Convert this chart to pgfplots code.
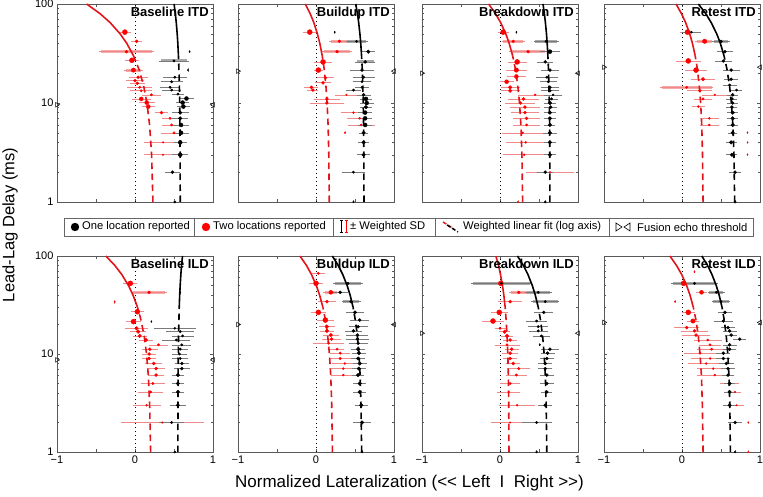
\documentclass[border=0pt]{standalone}
\usepackage{fontspec}
\setmainfont{Liberation Sans}
\usepackage{pgfplots}
\usepackage{pgfplotstable}
\pgfplotsset{compat=1.18}
\definecolor{ered}{HTML}{F08A8A}
\definecolor{egrey}{HTML}{7A7A7A}
\definecolor{bandred}{HTML}{F6A9A9}
\definecolor{bandgrey}{HTML}{A8A8A8}
\definecolor{fitred}{HTML}{E3141B}

% x = lateralization, y = lead-lag delay (ms), e = weighted SD, s = marker size (pt)
% ---- Baseline ITD
\pgfplotstableread{
x y e s
-0.13 52 0.06 2.5
0.02 42 0.05 1.5
-0.11 33 0.33 1.5
-0.04 27 0.07 2.5
-0.02 21.5 0.10 2.2
0.04 18.2 0.10 1.5
0.00 16.8 0.10 1.5
0.03 15.8 0.08 1.5
0.06 14.4 0.14 1.2
0.08 13.3 0.12 1.2
0.21 12.1 0.10 1.2
0.08 11 0.10 2.0
0.15 10.1 0.08 2.0
0.17 9.2 0.06 2.0
0.34 8 0.06 1.5
0.45 7 0.08 1.2
0.47 6 0.10 1.2
0.50 5 0.14 1.2
0.36 4 0.22 0.8
0.36 3 0.23 0.8
}\rA
\pgfplotstableread{
x y e s
0.70 33 0 0.7
0.50 26.6 0.17 1.2
0.68 21.5 0 0.7
0.51 18.2 0.13 1.2
0.47 16.4 0.12 1.2
0.45 14.4 0.11 1.2
0.47 13.5 0.10 1.2
0.55 12.3 0.06 1.2
0.66 11.1 0.07 2.0
0.61 10.1 0.06 2.0
0.62 9.2 0.06 2.0
0.58 8 0.09 1.8
0.58 7 0.08 1.8
0.59 6 0.08 2.0
0.59 5 0.08 2.0
0.58 4 0.06 2.0
0.58 3 0.08 2.0
0.48 2 0.07 1.5
0.51 1 0 1.2
}\kA
% ---- Buildup ITD
\pgfplotstableread{
x y e s
-0.08 52 0.07 2.5
0.30 42 0.11 1.5
0.27 33 0.17 1.5
0.09 26 0.10 2.5
0.03 21.5 0.04 2.5
0.12 18 0.09 1.5
0.09 16 0.08 1.5
-0.06 14.4 0.07 1.5
-0.04 13.5 0.05 1.5
0.39 12.1 0.12 0.8
0.14 11 0.15 1.5
0.14 10 0.20 1.5
0.48 8 0.14 1.0
0.56 7 0.14 1.0
0.58 6 0.15 1.0
0.37 5 0 0.7
}\rB
\pgfplotstableread{
x y e s
0.24 52 0 0.7
0.52 42 0.12 1.2
0.67 33 0.07 1.8
0.63 26 0.11 1.5
0.59 21.5 0.13 1.5
0.61 18.2 0.12 1.2
0.59 16.4 0.10 1.2
0.59 14.4 0.07 1.2
0.48 13.5 0.07 1.2
0.61 12.1 0.07 1.5
0.64 11 0.06 2.0
0.65 10 0.07 2.0
0.64 9.1 0.06 1.8
0.63 8 0.07 2.0
0.63 7 0.07 2.0
0.63 6 0.07 2.0
0.61 5 0.04 1.8
0.61 4 0.05 1.8
0.61 3 0.06 1.8
0.48 2 0.13 1.2
0.48 1 0 0.9
}\kB
% ---- Breakdown ITD
\pgfplotstableread{
x y e s
0.04 52 0.05 2.5
0.17 42 0.13 1.5
0.36 33 0.22 1.5
0.22 26 0.10 2.5
0.21 21.5 0.11 2.2
0.21 18.5 0.10 2.0
0.085 16.4 0.07 2.0
0.13 14.4 0.10 1.8
0.13 13.3 0.10 1.8
0.45 12.1 0.20 1.0
0.30 11 0.18 1.5
0.26 10 0.17 1.5
0.32 9.1 0.17 1.5
0.32 8 0.16 1.5
0.34 7 0.15 1.5
0.34 6 0.15 1.2
0.29 5 0.24 1.0
0.33 4 0.23 1.0
0.31 3 0.25 1.0
0.64 2 0.29 0.8
0.23 1 0 0.7
}\rC
\pgfplotstableread{
x y e s
0.21 52 0 0.7
0.59 42 0.14 1.2
0.64 33 0.11 2.0
0.58 26 0.08 1.5
0.64 21.5 0.09 1.5
0.60 18.2 0.12 1.2
0.62 16.4 0.09 1.2
0.64 14.4 0.10 1.5
0.64 13.3 0.10 1.5
0.68 12.1 0.10 1.0
0.66 11 0.06 1.2
0.64 10 0.06 1.8
0.65 9.1 0.06 1.5
0.64 8 0.06 1.8
0.64 7 0.06 1.8
0.64 6 0.05 1.8
0.64 5 0.07 1.8
0.64 4 0.06 1.8
0.64 3 0.06 1.8
0.58 2 0.08 1.5
0.58 1 0 1.2
}\kC
% ---- Retest ITD
\pgfplotstableread{
x y e s
0.07 52 0.07 2.5
0.29 42 0.10 2.2
0.08 26.6 0.14 2.5
0.18 21.5 0.12 2.5
0.27 17.4 0.13 1.8
0.06 14.4 0.32 1.2
0.23 13.3 0.14 1.5
0.42 12.1 0.14 0.8
0.27 11 0.10 1.2
0.21 9.2 0.06 1.0
0.35 7 0.10 1.0
0.35 6 0.10 1.0
0.84 5 0 0.6
0.84 4 0 0.6
0.84 3 0 0.6
}\rD
\pgfplotstableread{
x y e s
0.12 52 0.10 1.2
0.50 42 0.09 1.5
0.55 33 0.08 1.5
0.53 26.6 0.09 1.5
0.63 21.5 0.09 1.5
0.63 17.4 0.07 1.5
0.61 15.2 0.07 1.2
0.70 13.5 0.05 1.2
0.65 12.1 0.05 1.5
0.64 11 0.05 1.5
0.65 10 0.05 1.5
0.64 9.1 0.05 1.5
0.65 8 0.05 1.8
0.65 7 0.05 1.8
0.65 6 0.05 1.8
0.65 5 0.04 1.8
0.63 4 0.05 1.8
0.64 3 0.05 1.8
0.68 2 0.06 1.5
0.68 1 0 1.2
}\kD
% ---- Baseline ILD
\pgfplotstableread{
x y e s
-0.06 52.6 0.07 2.5
0.18 42.6 0.21 1.5
-0.26 34 0 0.7
0.03 27 0.06 2.5
-0.02 21.4 0.07 2.5
0.02 18.3 0.13 1.8
0.04 16.9 0.08 1.8
0.06 15.3 0.07 1.8
0.14 13.9 0.07 1.8
0.30 12.4 0.10 1.2
0.19 11.2 0.08 1.5
0.18 10 0.07 1.5
0.18 9 0.07 1.5
0.24 8 0.09 1.5
0.27 7.1 0.10 1.5
0.27 6.1 0.08 1.5
0.23 5 0.13 1.2
0.20 4.1 0.14 1.2
0.15 3 0.16 1.0
0.35 2 0.51 0.8
}\rE
\pgfplotstableread{
x y e s
0.58 42.6 0 0.7
0.21 21.4 0 0.7
0.51 18.3 0.25 1.0
0.58 16.9 0.16 1.2
0.61 15.3 0.12 1.2
0.53 13.9 0.16 1.2
0.60 12.4 0.10 1.2
0.58 11.2 0.08 1.2
0.57 10 0.08 1.2
0.58 9 0.08 1.2
0.60 8 0.07 1.5
0.60 7.1 0.08 1.5
0.55 6.1 0.06 1.8
0.55 5 0.06 1.8
0.55 4.1 0.06 1.8
0.55 3 0.08 1.8
0.47 2 0.14 1.2
0.51 1 0 1.0
}\kE
% ---- Buildup ILD
\pgfplotstableread{
x y e s
0.03 66.5 0.06 1.2
0.00 52.6 0.07 2.5
0.19 42.6 0.08 2.0
0.14 34.2 0.09 1.5
0.03 26.6 0.08 2.5
0.12 22.2 0.09 2.5
0.14 19 0.08 1.8
0.14 17.2 0.07 1.8
0.19 15.6 0.08 1.8
0.20 14.2 0.10 1.5
0.16 12.9 0.18 1.2
0.27 11.2 0.07 1.2
0.31 10.2 0.11 1.2
0.31 9 0.12 1.2
0.37 8 0.14 1.0
0.35 7.1 0.16 1.0
0.35 6.1 0.14 1.0
}\rF
\pgfplotstableread{
x y e s
0.41 52.6 0.17 1.2
0.31 42.6 0.08 1.5
0.45 34.2 0.10 1.5
0.50 26.6 0.10 1.8
0.56 22.2 0.10 1.5
0.54 19 0.10 1.5
0.48 17.2 0.09 1.5
0.53 15.6 0.12 1.5
0.53 14.2 0.13 1.5
0.54 12.9 0.10 1.5
0.54 11.2 0.07 1.8
0.55 10.2 0.07 1.8
0.54 9 0.07 1.8
0.56 8 0.07 1.8
0.55 7.1 0.07 1.8
0.54 6.1 0.06 1.8
0.56 5 0.06 1.8
0.56 4.1 0.06 1.8
0.58 3 0.06 1.8
0.59 2 0.09 1.8
0.59 1 0 1.0
}\kF
% ---- Breakdown ILD
\pgfplotstableread{
x y e s
0.01 52.6 0.06 2.5
0.24 42.6 0.10 1.5
0.13 34.2 0.13 1.5
-0.01 26.6 0.09 2.5
-0.09 21.7 0.12 2.5
0.00 18.3 0.05 1.2
0.06 16.9 0.05 1.8
0.09 15.3 0.06 1.8
0.13 13.9 0.07 1.5
0.09 12.4 0.14 1.2
0.15 11.2 0.07 1.5
0.13 10.2 0.08 1.5
0.13 9 0.07 1.5
0.17 8 0.07 1.5
0.24 7.1 0.13 1.2
0.21 6.1 0.11 1.2
0.13 5 0.11 1.2
0.11 4.1 0.13 1.0
0.22 3 0.21 1.0
0.13 2 0.22 0.8
}\rG
\pgfplotstableread{
x y e s
0.02 52.6 0.37 1.2
0.49 42.6 0.15 1.2
0.58 34.2 0.16 1.2
0.56 26.6 0.10 1.5
0.47 21.7 0.11 1.2
0.49 19 0.11 1.2
0.49 17.2 0.10 1.2
0.53 15.3 0.09 1.2
0.51 12.4 0 0.8
0.64 11.2 0.09 1.5
0.61 10.2 0.07 1.5
0.60 9 0.07 1.5
0.58 8 0.07 1.5
0.58 7.1 0.07 1.5
0.60 6.1 0.07 1.5
0.60 5 0.07 1.5
0.60 4.1 0.05 1.5
0.58 3 0.07 1.5
0.47 2 0.17 1.2
0.47 1 0 1.0
}\kG
% ---- Retest ILD
\pgfplotstableread{
x y e s
0.16 69 0 0.7
0.02 52.6 0.07 2.5
0.25 42.6 0.05 2.0
-0.09 34.2 0 0.7
0.08 26.6 0.06 2.5
0.14 21.7 0.06 2.2
0.06 18.6 0.14 1.5
0.16 17.2 0.15 1.5
0.18 15.6 0.16 1.5
0.33 13.9 0.16 1.2
0.36 12.4 0.12 1.2
0.38 11.2 0.17 1.2
0.23 10.2 0.18 1.2
0.36 9 0.22 1.0
0.31 8 0.21 1.0
0.40 7.1 0.19 1.0
0.42 6.1 0.21 1.0
0.61 5 0.10 0.8
0.68 4.1 0.06 0.8
0.70 3 0.07 0.8
0.85 2 0 0.6
0.85 1 0 0.6
}\rH
\pgfplotstableread{
x y e s
0.16 52.6 0.28 1.2
0.44 42.6 0.09 1.2
0.50 34.2 0.10 1.2
0.55 26.6 0.07 1.5
0.53 21.7 0.10 1.5
0.59 18.6 0.07 1.5
0.61 17.2 0.07 1.5
0.63 15.6 0.06 1.5
0.74 14.2 0.06 1.5
0.61 12.4 0.07 1.5
0.61 11.2 0.06 1.5
0.53 10.2 0.07 1.5
0.53 9 0.07 1.5
0.57 8 0.07 1.5
0.59 7.1 0.07 1.5
0.59 6.1 0.06 1.5
0.61 5 0.05 1.8
0.61 4.1 0.05 1.8
0.61 3 0.06 1.8
0.68 2 0.07 1.5
0.68 1 0 1.0
}\kH

\pgfplotsset{
  myax/.style={scale only axis, width=156pt, anchor=south west,
    xmin=-1, xmax=1, ymin=1, ymax=100,
    xtick={-1,-0.5,0,0.5,1}, xticklabels={}, ytick={1,10,100}, yticklabels={},
    axis line style={black!65, line width=0.6pt},
    tick style={black!65, line width=0.5pt},
    major tick length=3pt, minor tick length=2pt,
    tick label style={font=\fontsize{11}{13}\selectfont}},
  pts/.style={scatter, only marks, mark=*,
    scatter/use mapped color={draw=#1, fill=#1},
    visualization depends on={\thisrow{s}\as\ms},
    scatter/@pre marker code/.append style={/tikz/mark size=\ms},
    error bars/x dir=both, error bars/x explicit},
  rdat/.style={pts=red,
    error bars/error bar style={draw=ered, line width=0.6pt},
    error bars/error mark options={draw=ered, mark size=1.6pt, line width=0.6pt}},
  kdat/.style={pts=black,
    error bars/error bar style={draw=egrey, line width=0.6pt},
    error bars/error mark options={draw=egrey, mark size=1.6pt, line width=0.6pt}},
  band/.style={draw=none, mark=none,
    error bars/x dir=both, error bars/x explicit, error bars/error mark=none,
    error bars/error bar style={draw=#1, line width=3pt}},
  zline/.style={black, line width=0.7pt, dash pattern=on 0.7pt off 3.3pt},
  rfd/.style={fitred, line width=1.6pt, dash pattern=on 6.5pt off 4.5pt},
  rfs/.style={fitred, line width=1.6pt},
  kfd/.style={black, line width=1.6pt, dash pattern=on 6.5pt off 4.5pt},
  kfs/.style={black, line width=1.6pt},
  fus/.style={only marks, mark=triangle, mark size=2.6pt, black, line width=0.5pt},
  botrow/.style={xticklabels={−1,,0,,1}},
}
\tikzset{ttl/.style={anchor=north east, inner sep=0pt, xshift=-4pt, yshift=-3pt,
  font=\bfseries\fontsize{13}{15}\selectfont}}

\newcommand\fusion[1]{%
  \addplot[fus, mark options={rotate=-90}] coordinates {(-1,#1)};
  \addplot[fus, mark options={rotate=90}] coordinates {(1,#1)};}

\begin{document}
\begin{tikzpicture}
\path[use as bounding box] (0,0) rectangle (763pt,496pt);

% ---------------- top row (ITD)
\begin{axis}[myax, ymode=log, height=198pt, at={(57pt,294pt)}, yticklabels={1,10,100}]
  \addplot[zline] coordinates {(0,1) (0,100)};
  \addplot[band=bandred] coordinates {(-0.11,33) +- (0.33,0) (-0.02,21.5) +- (0.10,0)};
  \addplot[band=bandgrey] coordinates {(0.50,26.6) +- (0.17,0)};
  \addplot[rdat] table[x=x,y=y,x error=e] {\rA};
  \addplot[kdat] table[x=x,y=y,x error=e] {\kA};
  \addplot[rfd] coordinates {(0.23,1) (0.213,3) (0.187,6) (0.153,10) (0.110,15) (0.050,22) (-0.019,30)};
  \addplot[rfs] coordinates {(-0.019,30) (-0.105,40) (-0.191,50) (-0.320,65) (-0.449,80) (-0.620,100)};
  \addplot[kfd] coordinates {(0.58,1) (0.578,3) (0.576,6) (0.573,10) (0.569,15) (0.563,22) (0.557,30)};
  \addplot[kfs] coordinates {(0.557,30) (0.549,40) (0.541,50) (0.529,65) (0.517,80) (0.501,100)};
  \fusion{9.6}
  \node[ttl] at (rel axis cs:1,1) {Baseline ITD};
\end{axis}

\begin{axis}[myax, ymode=log, height=198pt, at={(238pt,294pt)}]
  \addplot[zline] coordinates {(0,1) (0,100)};
  \addplot[band=bandred] coordinates {(0.30,42) +- (0.11,0) (0.27,33) +- (0.17,0)};
  \addplot[band=bandgrey] coordinates {(0.52,42) +- (0.12,0) (0.63,26) +- (0.11,0)};
  \addplot[rdat] table[x=x,y=y,x error=e] {\rB};
  \addplot[kdat] table[x=x,y=y,x error=e] {\kB};
  \addplot[rfd] coordinates {(0.17,1) (0.164,3) (0.155,6) (0.142,10) (0.127,15) (0.105,22) (0.080,30)};
  \addplot[rfs] coordinates {(0.080,30) (0.049,40) (0.018,50) (-0.028,65) (-0.075,80) (-0.137,100)};
  \addplot[kfd] coordinates {(0.615,1) (0.613,3) (0.610,6) (0.605,10) (0.600,15) (0.593,22) (0.584,30)};
  \addplot[kfs] coordinates {(0.584,30) (0.574,40) (0.563,50) (0.547,65) (0.531,80) (0.510,100)};
  \fusion{21}
  \node[ttl] at (rel axis cs:1,1) {Buildup ITD};
\end{axis}

\begin{axis}[myax, ymode=log, height=198pt, at={(422pt,294pt)}]
  \addplot[zline] coordinates {(0,1) (0,100)};
  \addplot[band=bandred] coordinates {(0.17,42) +- (0.13,0) (0.36,33) +- (0.22,0)};
  \addplot[band=bandgrey] coordinates {(0.59,42) +- (0.14,0)};
  \addplot[rdat] table[x=x,y=y,x error=e] {\rC};
  \addplot[kdat] table[x=x,y=y,x error=e] {\kC};
  \addplot[rfd] coordinates {(0.29,1) (0.281,3) (0.268,6) (0.250,10) (0.228,15) (0.198,22) (0.162,30)};
  \addplot[rfs] coordinates {(0.162,30) (0.118,40) (0.074,50) (0.008,65) (-0.058,80) (-0.146,100)};
  \addplot[kfd] coordinates {(0.64,1) (0.638,3) (0.636,6) (0.632,10) (0.627,15) (0.621,22) (0.614,30)};
  \addplot[kfs] coordinates {(0.614,30) (0.605,40) (0.596,50) (0.582,65) (0.569,80) (0.551,100)};
  \fusion{20}
  \node[ttl] at (rel axis cs:1,1) {Breakdown ITD};
\end{axis}

\begin{axis}[myax, ymode=log, height=198pt, at={(604pt,294pt)}]
  \addplot[zline] coordinates {(0,1) (0,100)};
  \addplot[band=bandred] coordinates {(0.29,42) +- (0.10,0) (0.06,14.4) +- (0.32,0)};
  \addplot[band=bandgrey] coordinates {(0.50,42) +- (0.09,0)};
  \addplot[rdat] table[x=x,y=y,x error=e] {\rD};
  \addplot[kdat] table[x=x,y=y,x error=e] {\kD};
  \addplot[rfd] coordinates {(0.27,1) (0.263,3) (0.253,6) (0.239,10) (0.221,15) (0.197,22) (0.169,30)};
  \addplot[rfs] coordinates {(0.169,30) (0.134,40) (0.099,50) (0.046,65) (-0.007,80) (-0.077,100)};
  \addplot[kfd] coordinates {(0.675,1) (0.666,3) (0.652,6) (0.633,10) (0.609,15) (0.576,22) (0.539,30)};
  \addplot[kfs] coordinates {(0.539,30) (0.492,40) (0.445,50) (0.374,65) (0.304,80) (0.210,100)};
  \fusion{23}
  \node[ttl] at (rel axis cs:1,1) {Retest ITD};
\end{axis}

% ---------------- bottom row (ILD)
\begin{axis}[myax, ymode=log, botrow, height=196pt, at={(57pt,44pt)}, yticklabels={1,10,100}]
  \addplot[zline] coordinates {(0,1) (0,100)};
  \addplot[band=bandred] coordinates {(0.18,42.6) +- (0.21,0)};
  \addplot[rdat] table[x=x,y=y,x error=e] {\rE};
  \addplot[kdat] table[x=x,y=y,x error=e] {\kE};
  \addplot[rfd] coordinates {(0.20,1) (0.188,3) (0.171,6) (0.148,10) (0.119,15) (0.078,22) (0.032,30)};
  \addplot[rfs] coordinates {(0.032,30) (-0.026,40) (-0.084,50) (-0.171,65) (-0.258,80) (-0.374,100)};
  \addplot[kfd] coordinates {(0.55,1) (0.551,3) (0.553,6) (0.555,10) (0.558,15) (0.563,22) (0.567,30)};
  \addplot[kfs] coordinates {(0.567,30) (0.573,40) (0.579,50) (0.588,65) (0.597,80) (0.609,100)};
  \fusion{8.7}
  \node[ttl] at (rel axis cs:1,1) {Baseline ILD};
\end{axis}

\begin{axis}[myax, ymode=log, botrow, height=196pt, at={(238pt,44pt)}]
  \addplot[zline] coordinates {(0,1) (0,100)};
  \addplot[band=bandred] coordinates {(0.19,42.6) +- (0.08,0)};
  \addplot[band=bandgrey] coordinates {(0.41,52.6) +- (0.17,0) (0.45,34.2) +- (0.10,0)};
  \addplot[rdat] table[x=x,y=y,x error=e] {\rF};
  \addplot[kdat] table[x=x,y=y,x error=e] {\kF};
  \addplot[rfd] coordinates {(0.21,1) (0.202,3) (0.189,6) (0.172,10) (0.151,15) (0.122,22) (0.088,30)};
  \addplot[rfs] coordinates {(0.088,30) (0.046,40) (0.004,50) (-0.059,65) (-0.122,80) (-0.206,100)};
  \addplot[kfd] coordinates {(0.585,1) (0.577,3) (0.566,6) (0.551,10) (0.532,15) (0.505,22) (0.475,30)};
  \addplot[kfs] coordinates {(0.475,30) (0.437,40) (0.399,50) (0.342,65) (0.285,80) (0.209,100)};
  \fusion{20}
  \node[ttl] at (rel axis cs:1,1) {Buildup ILD};
\end{axis}

\begin{axis}[myax, ymode=log, botrow, height=196pt, at={(422pt,44pt)}]
  \addplot[zline] coordinates {(0,1) (0,100)};
  \addplot[band=bandred] coordinates {(0.24,42.6) +- (0.10,0)};
  \addplot[band=bandgrey] coordinates {(0.02,52.6) +- (0.37,0) (0.49,42.6) +- (0.15,0) (0.58,34.2) +- (0.16,0)};
  \addplot[rdat] table[x=x,y=y,x error=e] {\rG};
  \addplot[kdat] table[x=x,y=y,x error=e] {\kG};
  \addplot[rfd] coordinates {(0.115,1) (0.112,3) (0.107,6) (0.100,10) (0.091,15) (0.079,22) (0.066,30)};
  \addplot[rfs] coordinates {(0.066,30) (0.049,40) (0.032,50) (0.006,65) (-0.019,80) (-0.053,100)};
  \addplot[kfd] coordinates {(0.60,1) (0.592,3) (0.581,6) (0.566,10) (0.547,15) (0.520,22) (0.490,30)};
  \addplot[kfs] coordinates {(0.490,30) (0.452,40) (0.414,50) (0.357,65) (0.300,80) (0.224,100)};
  \fusion{16.3}
  \node[ttl] at (rel axis cs:1,1) {Breakdown ILD};
\end{axis}

\begin{axis}[myax, ymode=log, botrow, height=196pt, at={(604pt,44pt)}]
  \addplot[zline] coordinates {(0,1) (0,100)};
  \addplot[band=bandgrey] coordinates {(0.16,52.6) +- (0.28,0) (0.44,42.6) +- (0.09,0) (0.50,34.2) +- (0.10,0)};
  \addplot[rdat] table[x=x,y=y,x error=e] {\rH};
  \addplot[kdat] table[x=x,y=y,x error=e] {\kH};
  \addplot[rfd] coordinates {(0.27,1) (0.261,3) (0.249,6) (0.231,10) (0.210,15) (0.180,22) (0.145,30)};
  \addplot[rfs] coordinates {(0.145,30) (0.102,40) (0.059,50) (-0.005,65) (-0.070,80) (-0.156,100)};
  \addplot[kfd] coordinates {(0.62,1) (0.613,3) (0.602,6) (0.587,10) (0.568,15) (0.542,22) (0.513,30)};
  \addplot[kfs] coordinates {(0.513,30) (0.476,40) (0.439,50) (0.383,65) (0.328,80) (0.254,100)};
  \fusion{21}
  \node[ttl] at (rel axis cs:1,1) {Retest ILD};
\end{axis}

% ---------------- legend
\begin{scope}[font=\fontsize{11.2}{13}\selectfont]
  \draw[black!60, line width=0.6pt] (64pt,260pt) rectangle (753pt,278pt);
  \foreach \sx in {194,333,435,609}
    \draw[black!60, line width=0.6pt] (\sx pt,260pt) -- (\sx pt,278pt);
  \fill[black] (75pt,269pt) circle (4.2pt);
  \node[anchor=west, inner sep=0pt] at (82pt,269pt) {One location reported};
  \fill[red] (206pt,269pt) circle (4.2pt);
  \node[anchor=west, inner sep=0pt] at (213pt,269pt) {Two locations reported};
  \draw[black, line width=1pt] (341pt,263pt) -- (341pt,275pt)
    (339.5pt,263pt) -- (342.5pt,263pt) (339.5pt,275pt) -- (342.5pt,275pt);
  \draw[red, line width=1pt] (346pt,263pt) -- (346pt,275pt)
    (344.5pt,263pt) -- (347.5pt,263pt) (344.5pt,275pt) -- (347.5pt,275pt);
  \node[anchor=west, inner sep=0pt] at (350pt,269pt) {± Weighted SD};
  \draw[fitred, line width=1.4pt, dash pattern=on 4pt off 2pt] (443pt,274pt) -- (454pt,267pt);
  \draw[black, line width=1.4pt, dash pattern=on 4pt off 2pt] (447pt,271pt) -- (458pt,264pt);
  \node[anchor=west, inner sep=0pt] at (463pt,269pt) {Weighted linear fit (log axis)};
  \draw[black, line width=0.6pt] (616pt,265pt) -- (622pt,269pt) -- (616pt,273pt) -- cycle;
  \draw[black, line width=0.6pt] (630pt,265pt) -- (624pt,269pt) -- (630pt,273pt) -- cycle;
  \node[anchor=west, inner sep=0pt] at (637pt,269pt) {Fusion echo threshold};
\end{scope}

% ---------------- shared axis labels
\node[rotate=90, font=\fontsize{16.5}{18}\selectfont] at (10pt,271pt) {Lead-Lag Delay (ms)};
\node[font=\fontsize{17}{19}\selectfont] at (409.5pt,13pt)
  {Normalized Lateralization ({<}{<} Left\ \ I\ \ Right {>}{>})};
\end{tikzpicture}
\end{document}
